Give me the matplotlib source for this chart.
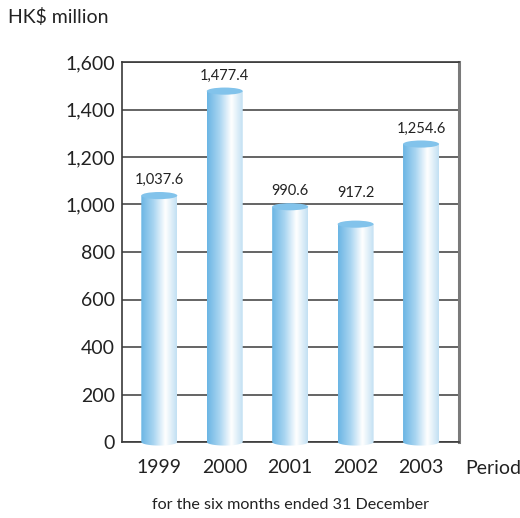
import matplotlib.pyplot as plt
import numpy as np
from matplotlib.colors import LinearSegmentedColormap
from matplotlib.patches import Ellipse, PathPatch
from matplotlib.path import Path

# Data
years = ['1999', '2000', '2001', '2002', '2003']
values = [1037.6, 1477.4, 990.6, 917.2, 1254.6]
labels = ['1,037.6', '1,477.4', '990.6', '917.2', '1,254.6']

plt.rcParams['font.family'] = ['Lato', 'DejaVu Sans']

fig = plt.figure(figsize=(5.2, 5.18), dpi=100)
ax = fig.add_axes([122 / 520, 76 / 518, 337 / 520, 380 / 518])

cmap = LinearSegmentedColormap.from_list(
    'cyl', [(0, '#6ab5e4'), (0.35, '#a9d5f1'), (0.68, '#ffffff'), (1, '#c2e0f3')])
grad = np.linspace(0, 1, 256).reshape(1, -1)

w = 0.55
eh = 30  # ellipse height in data units
x = np.arange(len(years))

for xi, v in zip(x, values):
    x0, x1 = xi - w / 2, xi + w / 2
    # outline: top edge, right side, bottom half ellipse, left side
    t = np.linspace(0, np.pi, 40)
    bottom = np.column_stack([xi + w / 2 * np.cos(t), -eh / 2 * np.sin(t)])
    verts = [(x0, v), (x1, v), (x1, 0)] + [tuple(p) for p in bottom] + [(x0, 0), (x0, v)]
    path = Path(verts, closed=True)
    patch = PathPatch(path, facecolor='none', edgecolor='none', clip_on=False)
    ax.add_patch(patch)
    im = ax.imshow(grad, cmap=cmap, aspect='auto', extent=[x0, x1, -eh, v],
                   zorder=3, interpolation='bilinear')
    im.set_clip_path(patch)
    im.set_clip_box(fig.bbox)
    top = Ellipse((xi, v), w, eh, facecolor='#82c3eb', edgecolor='none', zorder=4)
    ax.add_patch(top)

for xi, v, lab in zip(x, values, labels):
    ax.text(xi, max(v, 985) + 65, lab, ha='center', va='center',
            fontsize=10.5, color='#222222')

ax.set_xlim(-0.57, 4.58)
ax.set_ylim(0, 1600)
ax.set_yticks(np.arange(0, 1601, 200))
ax.set_yticklabels([f'{v:,}' for v in range(0, 1601, 200)])
ax.set_xticks(x)
ax.set_xticklabels(years)
ax.tick_params(axis='y', length=0, pad=5, labelsize=14, colors='#222222')
ax.tick_params(axis='x', length=0, pad=12, labelsize=14, colors='#222222')

ax.yaxis.grid(True, color='#4a4a4a', linewidth=1.2)
ax.set_axisbelow(True)

for s in ['left', 'top', 'bottom']:
    ax.spines[s].set_color('#3a3a3a')
    ax.spines[s].set_linewidth(1.2)
ax.spines['right'].set_color('#7a7a7a')
ax.spines['right'].set_linewidth(2.2)

fig.text(8 / 520, 1 - 17 / 518, 'HK$ million', fontsize=14, color='#222222',
         ha='left', va='center')
fig.text(465 / 520, 1 - 468 / 518, 'Period', fontsize=14, color='#222222',
         ha='left', va='center')
fig.text(290 / 520, 1 - 505 / 518, 'for the six months ended 31 December',
         fontsize=11.6, color='#222222', ha='center', va='center')

plt.savefig('out.png', dpi=100)
